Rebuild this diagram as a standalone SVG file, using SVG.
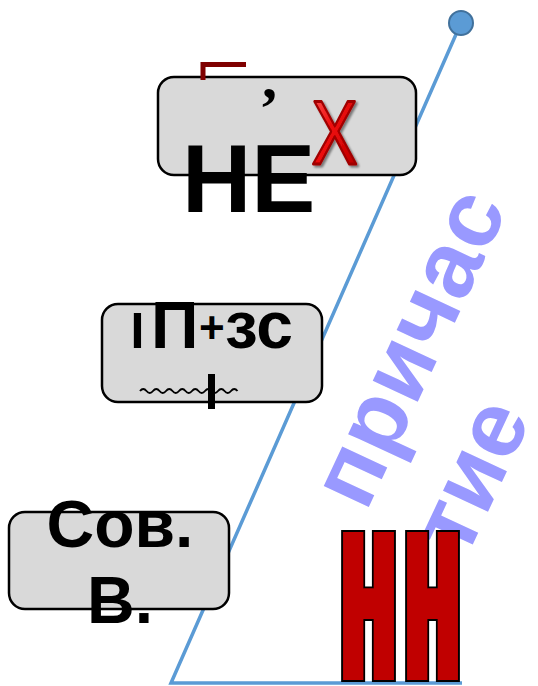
<svg xmlns="http://www.w3.org/2000/svg" width="538" height="686" viewBox="0 0 538 686">
<style>
.box{fill:#d9d9d9;stroke:#000;stroke-width:2.5}
.bk{font-family:"Liberation Sans",Arial,sans-serif;font-weight:bold;fill:#000}
.purple{font-family:"Liberation Sans",Arial,sans-serif;font-weight:bold;font-size:94px;fill:#9999ff}
.nn{font-family:"Liberation Sans",Arial,sans-serif;font-weight:bold;font-size:100px;fill:#c00000;text-anchor:middle}
.conn{fill:none;stroke:#5b9bd5;stroke-width:3.5}
</style>
<defs>
<filter id="heavy" x="-40%" y="-10%" width="180%" height="120%">
<feMorphology in="SourceAlpha" operator="dilate" radius="6.6 4.5" result="outer"/>
<feFlood flood-color="#000"/>
<feComposite in2="outer" operator="in" result="blk"/>
<feMorphology in="SourceGraphic" operator="dilate" radius="5.2 3.1" result="red"/>
<feMerge><feMergeNode in="blk"/><feMergeNode in="red"/></feMerge>
</filter>
<filter id="shadow" x="-20%" y="-20%" width="150%" height="150%">
<feDropShadow dx="2" dy="2" stdDeviation="1.2" flood-color="#000" flood-opacity="0.45"/>
</filter>
<linearGradient id="redg" x1="0" y1="0" x2="1" y2="1">
<stop offset="0" stop-color="#ff6060"/>
<stop offset="0.45" stop-color="#ee0a0a"/>
<stop offset="1" stop-color="#b00000"/>
</linearGradient>
</defs>

<g id="connectors">
<polyline class="conn" points="461,23 171,683 462,683"/>
<circle cx="461" cy="23" r="12" fill="#5b9bd5" stroke="#41719c" stroke-width="2"/>
</g>

<g id="box-ne">
<rect class="box" x="158" y="77" width="258" height="98" rx="16"/>
<path d="M203 80 V64.5 H246" fill="none" stroke="#7f0000" stroke-width="5"/>
<text x="262" y="98" font-family="'Liberation Serif','Times New Roman',serif" font-weight="bold" font-size="60" fill="#000">,</text>
<text class="bk" x="182" y="212" font-size="96">НЕ</text>
<g filter="url(#shadow)">
<text transform="translate(334.5,164) scale(0.76,1)" x="0" y="0" text-anchor="middle" font-family="'Liberation Sans',Arial,sans-serif" font-size="91" fill="url(#redg)" stroke="#a00000" stroke-width="2.8" stroke-linejoin="round">Х</text>
</g>
</g>

<g id="box-pzs">
<rect class="box" x="102" y="304" width="220" height="98" rx="16"/>
<text class="bk"><tspan x="130.5" y="348" font-size="50">I</tspan><tspan x="151" y="348" font-size="66">П</tspan><tspan x="199" y="343" font-size="44">+</tspan><tspan x="225" y="348" font-size="66">зс</tspan></text>
<path d="M140 391 q3.25 -4 6.5 0 t6.5 0 t6.5 0 t6.5 0 t6.5 0 t6.5 0 t6.5 0 t6.5 0 t6.5 0 t6.5 0 t6.5 0 t6.5 0 t6.5 0 t6.5 0 t6.5 0" fill="none" stroke="#000" stroke-width="1.9"/>
<rect x="208" y="374" width="7" height="35" fill="#000"/>
</g>

<g id="box-sov">
<rect class="box" x="9" y="512" width="220" height="97" rx="16"/>
<text class="bk" font-size="66" text-anchor="middle"><tspan x="120" y="547">Сов.</tspan><tspan x="120" y="623">В.</tspan></text>
</g>

<g id="label-prichastie">
<g transform="translate(366,513) rotate(-65)">
<text class="purple" x="0" y="0" textLength="336" lengthAdjust="spacing">причас</text>
<text class="purple" x="0" y="110">тие</text>
</g>
</g>

<g id="label-nn" filter="url(#heavy)">
<text class="nn" transform="translate(368.5,676.5) scale(0.693,2.07)" x="0" y="0">Н</text>
<text class="nn" transform="translate(432.5,676.5) scale(0.693,2.07)" x="0" y="0">Н</text>
</g>
</svg>
